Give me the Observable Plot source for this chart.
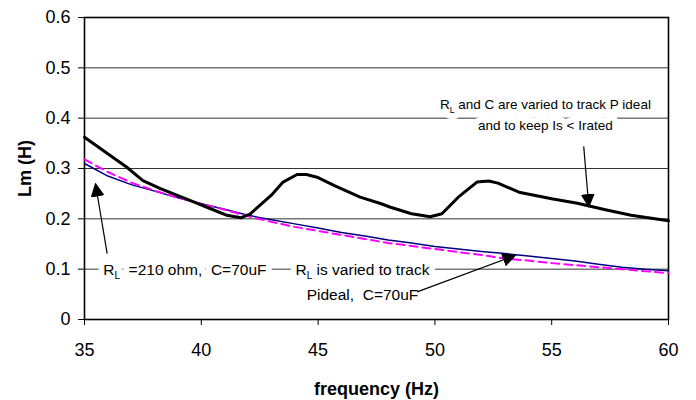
<!DOCTYPE html>
<html>
<head>
<meta charset="utf-8">
<script src="https://cdn.jsdelivr.net/npm/d3@7"></script>
<script src="https://cdn.jsdelivr.net/npm/@observablehq/plot@0.6"></script>
<style>
  html, body { margin: 0; padding: 0; background: #fff; }
  svg { font-family: "Liberation Sans", Arial, sans-serif; }
</style>
</head>
<body>
<div id="chart"></div>
<script>
// ---- data ----
const xTicks = [35, 40, 45, 50, 55, 60];
const yTicks = [0, 0.1, 0.2, 0.3, 0.4, 0.5, 0.6];
const gridY = [0.1, 0.2, 0.3, 0.4, 0.5];

// RL and C varied (black, thick)
const freqVaried = [35.0, 36.1, 36.8, 37.5, 38.25, 39.7, 40.4, 41.1, 41.7, 42.1, 43.0, 43.5, 44.1, 44.5, 45.0, 45.7, 46.8, 47.7, 48.1, 49.0, 49.8, 50.3, 51.0, 51.8, 52.3, 52.7, 53.6, 55.0, 56.1, 57.3, 58.4, 60.0];
const lmVaried   = [0.362, 0.326, 0.303, 0.276, 0.26, 0.233, 0.22, 0.207, 0.202, 0.21, 0.247, 0.273, 0.288, 0.288, 0.282, 0.266, 0.243, 0.23, 0.223, 0.21, 0.204, 0.21, 0.243, 0.273, 0.275, 0.271, 0.253, 0.24, 0.231, 0.218, 0.207, 0.196];

// common frequency grid for the two smooth curves
const freqSmooth = [35, 36, 37, 38, 39, 40, 41, 42, 43, 44, 45, 46, 47, 48, 49, 50, 51, 52, 53, 54, 55, 56, 57, 58, 59, 60];
// RL = 210 ohm, C = 70uF (navy, solid)
const lmFixed = [0.31, 0.285, 0.268, 0.255, 0.242, 0.23, 0.219, 0.207, 0.198, 0.19, 0.182, 0.173, 0.166, 0.158, 0.152, 0.145, 0.14, 0.135, 0.131, 0.126, 0.121, 0.116, 0.11, 0.104, 0.1, 0.097];
// RL varied to track Pideal (magenta, dashed)
const lmTrack = [0.318, 0.293, 0.272, 0.256, 0.242, 0.23, 0.218, 0.205, 0.194, 0.184, 0.176, 0.168, 0.16, 0.152, 0.146, 0.14, 0.134, 0.128, 0.121, 0.117, 0.112, 0.108, 0.104, 0.1, 0.096, 0.092];

// annotations (anchor in data units)
const noteTexts = ["R_L\u00a0 =210 ohm,\u00a0 C=70uF", "R_L is varied to track\nPideal,\u00a0 C=70uF", "R_L and C are varied to track P ideal\nand to keep Is < Irated"];
const noteFreq = [35.8, 46.9, 54.73];
const noteLm = [0.104, 0.0796, 0.41];

const arrowFrom = [[35.97, 0.131], [49.24, 0.0548], [56.37, 0.344]];
const arrowTo = [[35.47, 0.270], [53.45, 0.1276], [56.59, 0.2234]];

// ---- tables ----
const varied = freqVaried.map((f, i) => ({f, v: lmVaried[i]}));
const fixed = freqSmooth.map((f, i) => ({f, v: lmFixed[i]}));
const track = freqSmooth.map((f, i) => ({f, v: lmTrack[i]}));
const notes = noteTexts.map((t, i) => ({t, f: noteFreq[i], v: noteLm[i]}));
const arrows = arrowFrom.map((a, i) => ({x1: a[0], y1: a[1], x2: arrowTo[i][0], y2: arrowTo[i][1]}));

const noteStyles = [
  {textAnchor: "start", fontSize: 15.5, lineHeight: 1.6},
  {textAnchor: "middle", fontSize: 15.5, lineHeight: 1.6},
  {textAnchor: "middle", fontSize: 13.5, lineHeight: 1.55}
];
const noteMarks = (extra) => notes.map((n, i) =>
  Plot.text([n], {x: "f", y: "v", text: "t", lineAnchor: "middle", ...noteStyles[i], ...extra}));

const svg = Plot.plot({
  width: 696,
  height: 400,
  marginLeft: 84,
  marginRight: 28,
  marginTop: 17,
  marginBottom: 81,
  style: {background: "white", fontFamily: "'Liberation Sans', Arial, sans-serif", color: "black"},
  x: {domain: [35, 60]},
  y: {domain: [0, 0.6]},
  marks: [
    Plot.ruleY(gridY, {stroke: "#333", strokeWidth: 1}),
    Plot.axisX(xTicks, {tickSize: 6, tickPadding: 18, fontSize: 18, label: null, stroke: "black"}),
    Plot.axisY(yTicks, {tickSize: 6, tickPadding: 8, fontSize: 18, label: null, stroke: "black", tickFormat: d => String(d)}),
    Plot.frame({stroke: "black", strokeWidth: 1.6}),
    ...noteMarks({fill: "white", stroke: "white", strokeWidth: 12, strokeLinejoin: "round"}),
    ...noteMarks({fill: "black"}),
    Plot.line(fixed, {x: "f", y: "v", stroke: "#000080", strokeWidth: 1.5}),
    Plot.line(track, {x: "f", y: "v", stroke: "#ff00ff", strokeWidth: 2, strokeDasharray: "8,5"}),
    Plot.line(varied, {x: "f", y: "v", stroke: "black", strokeWidth: 3, strokeLinejoin: "round"}),
    Plot.link(arrows, {x1: "x1", y1: "y1", x2: "x2", y2: "y2", stroke: "black", strokeWidth: 1.2}),
    Plot.text(["Lm (H)"], {frameAnchor: "left", dx: -59, rotate: -90, fontWeight: "bold", fontSize: 18, textAnchor: "middle", lineAnchor: "middle"}),
    Plot.text(["frequency (Hz)"], {frameAnchor: "bottom", dy: 70, fontWeight: "bold", fontSize: 18, textAnchor: "middle", lineAnchor: "middle"})
  ]
});

// subscript L in R_L
(function subscript(root) {
  const ns = "http://www.w3.org/2000/svg";
  const walker = document.createTreeWalker(root, NodeFilter.SHOW_TEXT);
  const nodes = [];
  while (walker.nextNode()) if (walker.currentNode.nodeValue.includes("R_L")) nodes.push(walker.currentNode);
  for (const n of nodes) {
    const idx = n.nodeValue.indexOf("R_L");
    const a = n.nodeValue.slice(0, idx), b = n.nodeValue.slice(idx + 3);
    const parent = n.parentNode;
    const t1 = document.createTextNode(a + "R");
    const sub = document.createElementNS(ns, "tspan");
    sub.setAttribute("dy", "4");
    sub.setAttribute("font-size", "0.65em");
    sub.textContent = "L";
    const rest = document.createElementNS(ns, "tspan");
    rest.setAttribute("dy", "-4");
    rest.textContent = b;
    parent.replaceChild(rest, n);
    parent.insertBefore(sub, rest);
    parent.insertBefore(t1, sub);
  }
})(svg);

// filled arrowheads
(function heads(root) {
  const s = d3.select(root);
  const defs = s.insert("defs", ":first-child");
  defs.append("marker")
    .attr("id", "ahead").attr("viewBox", "0 0 14 14").attr("refX", 13).attr("refY", 7)
    .attr("markerWidth", 14).attr("markerHeight", 14).attr("markerUnits", "userSpaceOnUse").attr("orient", "auto")
    .append("path").attr("d", "M0,0L14,7L0,14Z").attr("fill", "black");
  s.selectAll("g[aria-label=link] path, g[aria-label=link] line").attr("marker-end", "url(#ahead)");
})(svg);

document.getElementById("chart").appendChild(svg);
</script>
</body>
</html>
